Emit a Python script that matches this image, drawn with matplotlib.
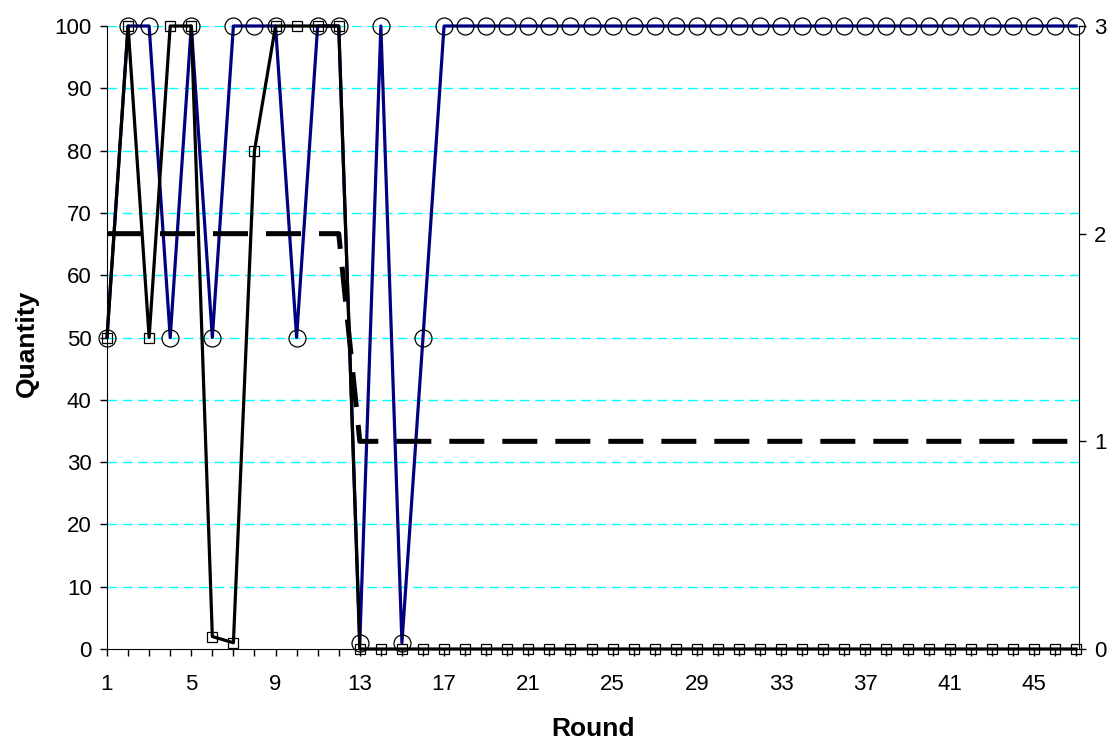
import numpy as np
import matplotlib
matplotlib.use("Agg")
import matplotlib.pyplot as plt

plt.rcParams['font.family'] = ['Liberation Sans', 'DejaVu Sans']

rounds = np.arange(1, 48)

# blue circles
qty_a = [50, 100, 100, 50, 100, 50, 100, 100, 100, 50, 100, 100, 1, 100, 1, 50] + [100] * 31
# black squares
qty_b = [50, 100, 50, 100, 100, 2, 1, 80, 100, 100, 100, 100] + [0] * 35
# dashed line, right axis
level = [2] * 12 + [1] * 35

fig = plt.figure(figsize=(11.2, 7.44), dpi=100)
fig.subplots_adjust(left=107/1120, right=1079/1120, bottom=1-649/744, top=1-26/744)
ax = fig.add_subplot(111)

for v in range(10, 101, 10):
    ax.axhline(v, color='#00FFFF', lw=1, ls=(0, (7, 4)), zorder=0)

ax.plot(rounds, qty_a, color='#000080', lw=2.3, marker='o', ms=12.2,
        mfc='none', mec='black', mew=0.9, zorder=2, clip_on=False)
ax.plot(rounds, qty_b, color='black', lw=2.3, marker='s', ms=7.5,
        mfc='none', mec='black', mew=0.9, zorder=3, clip_on=False)

ax.set_xlim(1, 47.14)
ax.set_ylim(0, 100)
ax.set_yticks(range(0, 101, 10))
ax.set_xticks(range(1, 46, 4))
ax.set_xticks(rounds, minor=True)
ax.tick_params(axis='both', which='both', direction='out', length=5, width=1,
               labelsize=16, colors='black')
ax.tick_params(axis='x', pad=13)
ax.tick_params(axis='y', pad=6)
ax.spines['top'].set_visible(False)
ax.spines['right'].set_visible(False)
ax.set_xlabel('Round', fontsize=19, fontweight='bold')
ax.set_ylabel('Quantity', fontsize=19, fontweight='bold')
ax.xaxis.set_label_coords(0.5, -0.109)
ax.yaxis.set_label_coords(-0.070, 0.49)

ax2 = ax.twinx()
ax2.plot(rounds, level, color='black', lw=3.6, dashes=(7, 3.6), zorder=4)
ax2.set_ylim(0, 3)
ax2.set_yticks([0, 1, 2, 3])
ax2.tick_params(axis='y', direction='out', length=5, width=1, labelsize=16, pad=6)
ax2.spines['top'].set_visible(False)
ax2.spines['left'].set_visible(False)
ax2.spines['bottom'].set_visible(False)

fig.savefig('out.png', dpi=100)
